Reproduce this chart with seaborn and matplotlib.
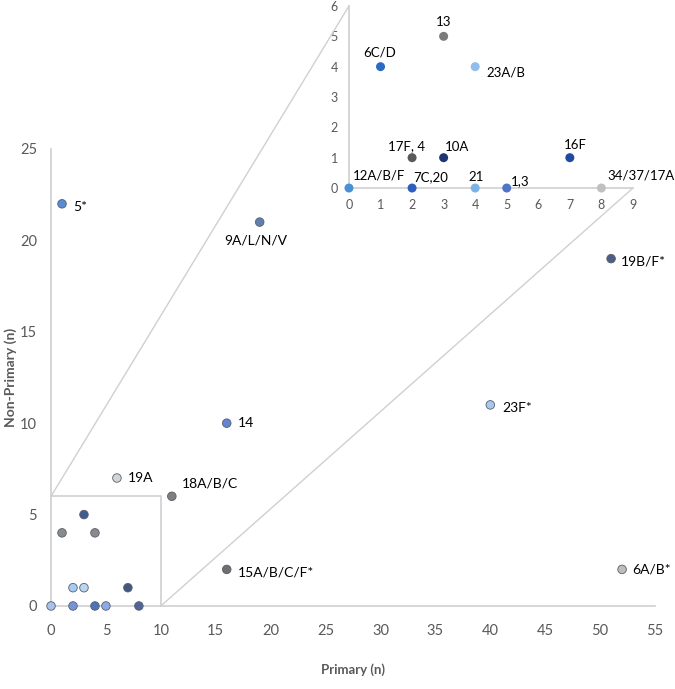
import numpy as np
import pandas as pd
import matplotlib
matplotlib.use("Agg")
import matplotlib.pyplot as plt
import seaborn as sns
from matplotlib.patches import ConnectionPatch

# Ana grafik verileri
main_labels = ["5*", "9A/L/N/V", "14", "19A", "18A/B/C", "15A/B/C/F*", "23F*", "19B/F*", "6A/B*",
               "s0", "s1", "s2", "s3", "s4", "s5", "s6", "s7", "s8", "s9", "s10"]
main_x = [1, 19, 16, 6, 11, 16, 40, 51, 52, 0, 2, 4, 5, 8, 2, 3, 7, 1, 4, 3]
main_y = [22, 21, 10, 7, 6, 2, 11, 19, 2, 0, 0, 0, 0, 0, 1, 1, 1, 4, 4, 5]
main_colors = ["#5b8ad6", "#5f7fae", "#6284d2", "#d4d4d4", "#7f7f7f", "#6f6f6f", "#a7c8ec", "#4c5d86", "#bdbdbd",
               "#a9c0ec", "#7695d6", "#4d73b8", "#8ea9e4", "#4f6596", "#a9cbf2", "#bcd6f2", "#44577f",
               "#8a8a8a", "#8a8a8a", "#3f5d8f"]

# Yakınlaştırılmış bölge verileri
ins_labels = ["12A/B/F", "7C,20", "21", "1,3", "34/37/17A", "17F, 4", "10A", "16F", "6C/D", "23A/B", "13"]
ins_x = [0, 2, 4, 5, 8, 2, 3, 7, 1, 4, 3]
ins_y = [0, 0, 0, 0, 0, 1, 1, 1, 4, 4, 5]
ins_colors = ["#4a90d9", "#2e5fc0", "#7ab3e6", "#4f74c8", "#c0c0c0", "#5a5a5a", "#1c3670", "#1f4aa0",
              "#2a6cc4", "#92bdea", "#7a7a7a"]

main_ticks_x = list(range(0, 56, 5))
main_ticks_y = list(range(0, 26, 5))
ins_ticks_x = list(range(0, 10))
ins_ticks_y = list(range(0, 7))
zoom_x, zoom_y = 10, 6

sns.set_style("white")
plt.rcParams["font.family"] = ["Lato", "DejaVu Sans"]

grid_col = "#d0d0d0"
tick_col = "#595959"

fig = plt.figure(figsize=(6.75, 6.89), dpi=100)
ax = fig.add_axes([0.0756, 0.1205, 0.8948, 0.6633])
ax.patch.set_visible(False)

main_df = pd.DataFrame({"x": main_x, "y": main_y, "lab": main_labels})
sns.scatterplot(data=main_df, x="x", y="y", hue="lab", palette=dict(zip(main_labels, main_colors)),
                s=38, edgecolor="#55606e", linewidth=0.6, legend=False, ax=ax, zorder=3, clip_on=False)

ax.set_xlim(0, 55)
ax.set_ylim(0, 25)
ax.set_xticks(main_ticks_x)
ax.set_yticks(main_ticks_y)
ax.tick_params(length=0, labelsize=10.5, colors=tick_col)
ax.tick_params(axis="x", pad=13)
ax.tick_params(axis="y", pad=10)
for side in ["top", "right"]:
    ax.spines[side].set_visible(False)
for side in ["left", "bottom"]:
    ax.spines[side].set_color(grid_col)
    ax.spines[side].set_linewidth(1.2)
ax.set_xlabel("Primary (n)", fontsize=9.5, fontweight="bold", color=tick_col, labelpad=18)
ax.set_ylabel("Non-Primary (n)", fontsize=10, fontweight="bold", color=tick_col, labelpad=2)

main_offsets = {"5*": (8, -2, "left", "center"), "9A/L/N/V": (-3, -13, "center", "center"),
                "14": (8, 0, "left", "center"), "19A": (8, 0, "left", "center"),
                "18A/B/C": (7, 9, "left", "center"), "15A/B/C/F*": (8, -2, "left", "center"),
                "23F*": (9, -2, "left", "center"), "19B/F*": (7, -2, "left", "center"),
                "6A/B*": (7, 0, "left", "center")}
for lab, xx, yy in zip(main_labels, main_x, main_y):
    if lab in main_offsets:
        dx, dy, ha, va = main_offsets[lab]
        ax.annotate(lab, (xx, yy), xytext=(dx, dy), textcoords="offset points",
                    ha=ha, va=va, fontsize=10, color="black")

# Yakınlaştırma kutusu
ax.plot([0, zoom_x, zoom_x], [zoom_y, zoom_y, 0], color=grid_col, lw=1.2, zorder=1, clip_on=False)

# İç grafik
axins = fig.add_axes([0.517, 0.7271, 0.4207, 0.2642])
axins.patch.set_visible(False)
ins_df = pd.DataFrame({"x": ins_x, "y": ins_y, "lab": ins_labels})
sns.scatterplot(data=ins_df, x="x", y="y", hue="lab", palette=dict(zip(ins_labels, ins_colors)),
                s=42, edgecolor="none", legend=False, ax=axins, zorder=3, clip_on=False)
axins.set_xlim(0, 9)
axins.set_ylim(0, 6)
axins.set_xticks(ins_ticks_x)
axins.set_yticks(ins_ticks_y)
axins.tick_params(length=0, labelsize=9, colors=tick_col, pad=8)
axins.set_xlabel("")
axins.set_ylabel("")
for side in ["top", "right"]:
    axins.spines[side].set_visible(False)
for side in ["left", "bottom"]:
    axins.spines[side].set_color(grid_col)
    axins.spines[side].set_linewidth(1.2)

ins_offsets = {"12A/B/F": (3, 9, "left"), "7C,20": (1, 8, "left"), "21": (1, 8, "center"),
               "1,3": (3, 5, "left"), "34/37/17A": (4, 9, "left"), "17F, 4": (-4, 8, "center"),
               "10A": (1, 8, "left"), "16F": (4, 9, "center"), "6C/D": (-1, 10, "center"),
               "23A/B": (8, -4, "left"), "13": (0, 10, "center")}
for lab, xx, yy in zip(ins_labels, ins_x, ins_y):
    dx, dy, ha = ins_offsets[lab]
    axins.annotate(lab, (xx, yy), xytext=(dx, dy), textcoords="offset points",
                   ha=ha, va="center", fontsize=9.5, color="black")

# Bağlantı çizgileri
for pa, pb in [((0, zoom_y), (0, 6)), ((zoom_x, 0), (9, 0))]:
    con = ConnectionPatch(xyA=pa, coordsA=ax.transData, xyB=pb, coordsB=axins.transData,
                          color=grid_col, lw=1.0, zorder=1)
    fig.add_artist(con)

plt.savefig("out.png", dpi=100)
